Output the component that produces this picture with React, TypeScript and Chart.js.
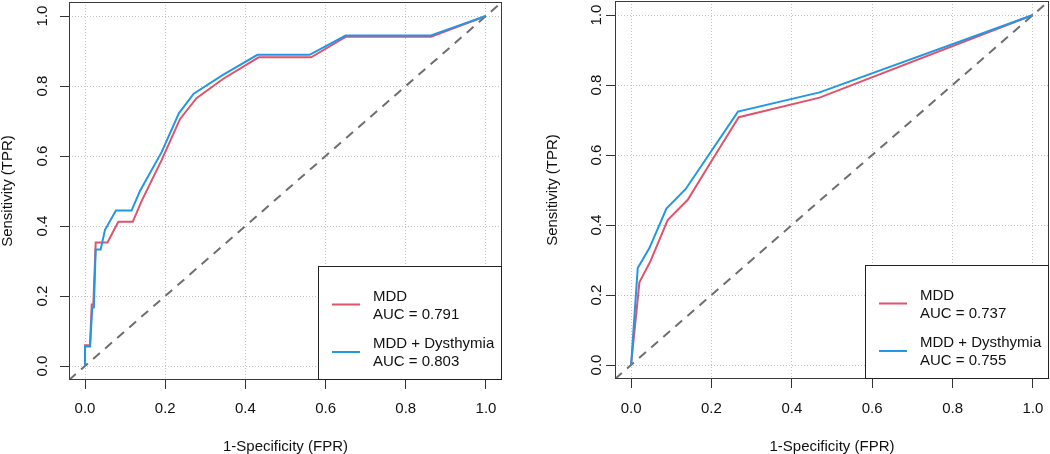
import React, { useEffect, useRef } from 'react';
import { Chart, registerables } from 'chart.js';

Chart.register(...registerables);

// ---------- data ----------
const seriesNames = ['MDD', 'MDD + Dysthymia'];
const seriesColors = ['#DF536B', '#2297E6'];
const tickValues = [0, 0.2, 0.4, 0.6, 0.8, 1.0];
const tickLabels = ['0.0', '0.2', '0.4', '0.6', '0.8', '1.0'];
const axisRange = [-0.04, 1.04];
const xTitle = '1-Specificity (FPR)';
const yTitle = 'Sensitivity (TPR)';

// left panel
const leftMddFpr = [0, 0, 0.0124, 0.0167, 0.0207, 0.0266, 0.056, 0.083, 0.119, 0.141, 0.191, 0.237, 0.278, 0.344, 0.433, 0.564, 0.651, 0.863, 1];
const leftMddTpr = [0, 0.059, 0.059, 0.176, 0.176, 0.353, 0.353, 0.412, 0.412, 0.471, 0.588, 0.706, 0.765, 0.82, 0.882, 0.882, 0.941, 0.941, 1];
const leftBothFpr = [0, 0, 0.0125, 0.018, 0.022, 0.0266, 0.039, 0.0498, 0.077, 0.116, 0.137, 0.191, 0.234, 0.271, 0.344, 0.43, 0.56, 0.65, 0.861, 1];
const leftBothTpr = [0, 0.056, 0.056, 0.167, 0.167, 0.333, 0.333, 0.389, 0.444, 0.444, 0.5, 0.611, 0.722, 0.778, 0.832, 0.889, 0.889, 0.944, 0.944, 1];
const leftAuc = ['0.791', '0.803'];

// right panel
const rightMddFpr = [0, 0.0207, 0.048, 0.091, 0.141, 0.199, 0.268, 0.469, 1];
const rightMddTpr = [0, 0.236, 0.296, 0.414, 0.472, 0.581, 0.708, 0.764, 1];
const rightBothFpr = [0, 0.0166, 0.0456, 0.088, 0.136, 0.266, 0.469, 1];
const rightBothTpr = [0, 0.277, 0.334, 0.447, 0.503, 0.724, 0.779, 1];
const rightAuc = ['0.737', '0.755'];

const FONT = "'Liberation Sans', Arial, Helvetica, sans-serif";

type Geom = {
  width: number; height: number;
  top: number; padRight: number;
  yWidth: number; xHeight: number;
  yTickPad: number; xTickPad: number; yTitlePad: number;
};

const toPoints = (xs: number[], ys: number[]) => xs.map((x, i) => ({ x, y: ys[i] }));

function decorPlugin(auc: string[]) {
  return {
    id: 'rocDecor',
    afterDatasetsDraw(chart: any) {
      const { ctx, chartArea: a } = chart;
      const L = Math.round(a.left) + 0.5;
      const R = Math.round(a.right) - 0.5;
      const T = Math.round(a.top) + 0.5;
      const B = Math.round(a.bottom) - 0.5;
      ctx.save();
      ctx.strokeStyle = '#3a3a3a';
      ctx.lineWidth = 1;
      ctx.setLineDash([]);
      ctx.strokeRect(L, T, R - L, B - T);

      // legend (bottom right)
      const w = 183, h = 113;
      const lx = R - w, ly = B - h;
      ctx.fillStyle = '#ffffff';
      ctx.fillRect(lx, ly, w, h);
      ctx.strokeStyle = '#222';
      ctx.strokeRect(lx, ly, w, h);

      const ds = chart.data.datasets.filter((d: any) => d.isSeries);
      const rows = [38, 85.5];
      ctx.font = `15px ${FONT}`;
      ctx.textBaseline = 'middle';
      ctx.textAlign = 'left';
      ds.forEach((d: any, i: number) => {
        const y = ly + rows[i];
        ctx.strokeStyle = d.borderColor;
        ctx.lineWidth = 2;
        ctx.beginPath();
        ctx.moveTo(lx + 13.5, y);
        ctx.lineTo(lx + 41.5, y);
        ctx.stroke();
        ctx.fillStyle = '#111';
        ctx.fillText(d.label, lx + 54.5, y - 8);
        ctx.fillText(`AUC = ${auc[i]}`, lx + 54.5, y + 10);
      });
      ctx.restore();
    },
  };
}

function RocPanel(props: {
  mdd: [number[], number[]];
  both: [number[], number[]];
  auc: string[];
  geom: Geom;
  left: number;
}) {
  const ref = useRef<HTMLCanvasElement | null>(null);
  const { geom } = props;

  useEffect(() => {
    if (!ref.current) return;
    const setTicks = (scale: any) => {
      scale.ticks = tickValues.map((value) => ({ value }));
    };
    const tickCb = (v: any) => {
      const i = tickValues.findIndex((t) => Math.abs(t - Number(v)) < 1e-9);
      return i >= 0 ? tickLabels[i] : '';
    };
    const chart = new Chart(ref.current, {
      type: 'line',
      data: {
        datasets: [
          {
            label: seriesNames[1],
            isSeries: true,
            data: toPoints(props.both[0], props.both[1]),
            borderColor: seriesColors[1],
            backgroundColor: seriesColors[1],
            borderWidth: 2,
            pointRadius: 0,
            tension: 0,
            fill: false,
            order: 0,
          } as any,
          {
            label: seriesNames[0],
            isSeries: true,
            data: toPoints(props.mdd[0], props.mdd[1]),
            borderColor: seriesColors[0],
            backgroundColor: seriesColors[0],
            borderWidth: 2,
            pointRadius: 0,
            tension: 0,
            fill: false,
            order: 1,
          } as any,
          {
            label: 'chance',
            data: toPoints(axisRange, axisRange),
            borderColor: '#6e6e6e',
            borderWidth: 2,
            borderDash: [9, 7],
            pointRadius: 0,
            fill: false,
            order: 2,
          } as any,
        ].sort((a: any, b: any) => (a.isSeries && b.isSeries ? (a.label === seriesNames[0] ? -1 : 1) : 0)),
      },
      options: {
        animation: false,
        responsive: false,
        maintainAspectRatio: false,
        events: [],
        layout: { padding: { top: geom.top, right: geom.padRight, left: 0, bottom: 0 } },
        plugins: { legend: { display: false }, tooltip: { enabled: false }, title: { display: false } },
        scales: {
          x: {
            type: 'linear',
            min: axisRange[0],
            max: axisRange[1],
            bounds: 'data',
            afterBuildTicks: setTicks,
            afterFit: (s: any) => { s.height = geom.xHeight; s.paddingLeft = 0; s.paddingRight = 0; },
            grid: {
              color: '#c4c4c4',
              lineWidth: 1,
              drawTicks: true,
              tickLength: 9,
              tickColor: '#333',
              tickWidth: 1,
              tickBorderDash: [],
            },
            border: { display: false, dash: [1, 2] },
            ticks: {
              autoSkip: false,
              maxRotation: 0,
              minRotation: 0,
              padding: geom.xTickPad,
              color: '#111',
              font: { family: FONT, size: 15, lineHeight: 1.2 },
              callback: tickCb,
            },
            title: {
              display: true,
              text: xTitle,
              color: '#111',
              font: { family: FONT, size: 15, lineHeight: 1 },
              padding: { top: 0, bottom: 0 },
            },
          },
          y: {
            type: 'linear',
            min: axisRange[0],
            max: axisRange[1],
            bounds: 'data',
            afterBuildTicks: setTicks,
            afterFit: (s: any) => { s.width = geom.yWidth; s.paddingTop = 0; s.paddingBottom = 0; },
            grid: {
              color: '#c4c4c4',
              lineWidth: 1,
              drawTicks: true,
              tickLength: 9,
              tickColor: '#333',
              tickWidth: 1,
              tickBorderDash: [],
            },
            border: { display: false, dash: [1, 2] },
            ticks: {
              autoSkip: false,
              minRotation: 90,
              maxRotation: 90,
              crossAlign: 'center',
              padding: geom.yTickPad,
              color: '#111',
              font: { family: FONT, size: 15, lineHeight: 1.2 },
              callback: tickCb,
            },
            title: {
              display: true,
              text: yTitle,
              color: '#111',
              font: { family: FONT, size: 15, lineHeight: 1 },
              padding: { top: geom.yTitlePad, bottom: 0 },
            },
          },
        },
      } as any,
      plugins: [decorPlugin(props.auc)],
    });
    return () => chart.destroy();
  }, []);

  return (
    <div style={{ position: 'absolute', left: props.left, top: 0, width: geom.width, height: geom.height }}>
      <canvas ref={ref} width={geom.width} height={geom.height} style={{ width: geom.width, height: geom.height, display: 'block' }} />
    </div>
  );
}

const leftGeom: Geom = { width: 525, height: 454, top: 2, padRight: 23, yWidth: 69, xHeight: 74, yTickPad: 6.3, xTickPad: 11, yTitlePad: 0 };
const rightGeom: Geom = { width: 525, height: 454, top: 1, padRight: 1, yWidth: 90, xHeight: 75, yTickPad: -1.4, xTickPad: 12, yTitlePad: 20.5 };

export default function App() {
  return (
    <div style={{ position: 'absolute', left: 0, top: 0, width: 1050, height: 454, background: '#fff', overflow: 'hidden' }}>
      <RocPanel mdd={[leftMddFpr, leftMddTpr]} both={[leftBothFpr, leftBothTpr]} auc={leftAuc} geom={leftGeom} left={0} />
      <RocPanel mdd={[rightMddFpr, rightMddTpr]} both={[rightBothFpr, rightBothTpr]} auc={rightAuc} geom={rightGeom} left={525} />
    </div>
  );
}
